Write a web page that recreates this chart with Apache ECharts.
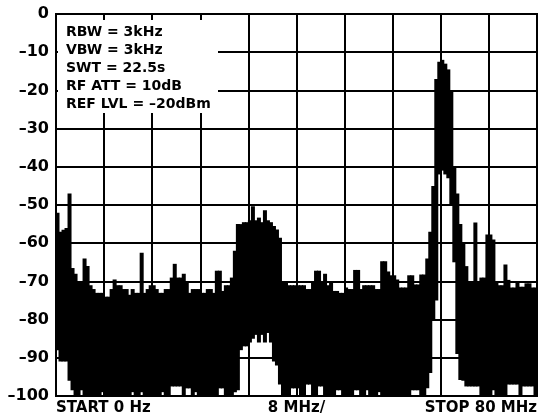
<!DOCTYPE html>
<html>
<head>
<meta charset="utf-8">
<script src="https://cdn.jsdelivr.net/npm/echarts@6/dist/echarts.min.js"></script>
<style>
html, body { margin: 0; padding: 0; background: #fff; }
#chart { width: 542px; height: 420px; }
</style>
</head>
<body>
<div id="chart"></div>
<script>
// spectrum sweep 0..80 MHz in 0.5 MHz bins
var binMHz = 0.5;

// top of the trace in each bin (dBm)
var upper = [
  -52, -57, -56.5, -56, -47, -66.5, -68, -70, -70, -64,
  -66, -71, -72, -73, -73, -73, -74, -74, -72, -69.5,
  -71, -71, -72, -72, -73.5, -72, -73, -73, -62.5, -73,
  -72, -71, -71, -72, -73, -73, -72, -72, -69, -65.4,
  -69, -69, -68, -70, -73, -72, -72, -72, -73, -73,
  -72, -72, -73, -67.2, -67.2, -72.5, -71, -71, -69, -62,
  -55, -55, -54.5, -54.5, -54, -50.3, -54, -53.3, -54.5, -51.4,
  -54, -54.5, -55.5, -56.4, -58.6, -70.4, -70.4, -71, -71, -71,
  -71, -71, -71, -72, -72, -70, -67.2, -67.2, -70, -68,
  -71, -69.9, -72.5, -72.5, -73, -73, -71.6, -72, -72, -67,
  -67, -72, -71, -71, -71, -71, -72, -72, -64.7, -64.7,
  -67.4, -68.4, -68.4, -69.5, -71.6, -71.6, -71.6, -68.4, -68.4, -70.8,
  -70.8, -68.2, -68.2, -64, -57, -45, -17, -12.5, -12, -13,
  -14.5, -20, -40, -47, -55, -60, -66, -70, -70, -54.6,
  -70, -69, -69, -57.7, -57.7, -59, -70, -71, -71, -65.6,
  -69.6, -71.6, -71.6, -70.2, -71.4, -71.4, -70.5, -70.5, -71.6, -71.6
];

// bottom of the trace in each bin (dBm)
var lower = [
  -88, -91, -91, -91, -96, -98.5, -100, -100, -98.5, -100,
  -100, -100, -100, -100, -100, -99, -100, -100, -100, -100,
  -100, -100, -100, -100, -100, -99, -100, -100, -99, -100,
  -100, -100, -100, -100, -100, -99, -100, -100, -97.5, -97.5,
  -97.5, -97.5, -100, -98, -98, -100, -99, -100, -100, -100,
  -100, -100, -100, -100, -98, -98, -100, -100, -100, -99,
  -98.5, -88, -87, -87, -86, -85, -84, -86, -84, -86,
  -83.5, -86, -91, -92, -97, -100, -100, -100, -98, -98,
  -98, -100, -100, -97, -97, -100, -100, -97.5, -97.5, -100,
  -100, -100, -100, -98.5, -98.5, -100, -100, -100, -100, -98.5,
  -98.5, -100, -100, -98.5, -100, -100, -100, -99, -100, -100,
  -100, -100, -100, -100, -100, -100, -100, -100, -98.5, -98.5,
  -98.5, -100, -100, -98, -94, -80, -75, -42, -41, -42,
  -43, -50, -65, -89, -95.8, -96, -97.5, -97.5, -97.5, -97.5,
  -97.5, -100, -100, -100, -100, -98.5, -100, -100, -100, -100,
  -97, -97, -97, -97, -100, -97.5, -97.5, -97.5, -97.5, -100
];

var xLabelAt = [0, 40, 80];
var xLabelText = ['START 0 Hz', '8 MHz/', 'STOP 80 MHz'];

var settings = [
  'RBW = 3kHz',
  'VBW = 3kHz',
  'SWT = 22.5s',
  'RF ATT = 10dB',
  'REF LVL = \u201320dBm'
];

var FONT = 'DejaVu Sans';

var data = upper.map(function (hi, i) {
  return [i * binMHz, lower[i], hi];
});

var myChart = echarts.init(document.getElementById('chart'));

var option = {
  animation: false,
  grid: {
    left: 56, right: 5, top: 14, bottom: 24,
    show: true, borderColor: '#000', borderWidth: 2
  },
  xAxis: {
    type: 'value',
    min: 0, max: 80, interval: 8,
    axisLine: { lineStyle: { color: '#000', width: 2 } },
    axisTick: { show: false },
    splitLine: { lineStyle: { color: '#000', width: 2 } },
    axisLabel: {
      color: '#000', fontFamily: FONT, fontWeight: 'bold', fontSize: 15,
      margin: 5,
      showMinLabel: true, showMaxLabel: true,
      alignMinLabel: 'left', alignMaxLabel: 'right',
      formatter: function (v) {
        var k = xLabelAt.indexOf(v);
        return k >= 0 ? xLabelText[k] : '';
      }
    }
  },
  yAxis: {
    type: 'value',
    min: -100, max: 0, interval: 10,
    axisLine: { lineStyle: { color: '#000', width: 2 } },
    axisTick: { show: false },
    splitLine: { lineStyle: { color: '#000', width: 2 } },
    axisLabel: {
      color: '#000', fontFamily: FONT, fontWeight: 'bold', fontSize: 16,
      margin: 7,
      formatter: function (v) {
        return v < 0 ? '\u2013' + (-v) : String(v);
      }
    }
  },
  series: [{
    type: 'custom',
    clip: true,
    data: data,
    encode: { x: 0, y: [1, 2] },
    renderItem: function (params, api) {
      var f = api.value(0);
      var p1 = api.coord([f, api.value(2)]);
      var p2 = api.coord([f + binMHz, api.value(1)]);
      // a little overlap so neighbouring bins join up
      return {
        type: 'rect',
        shape: { x: p1[0] - 0.5, y: p1[1], width: p2[0] - p1[0] + 1, height: p2[1] - p1[1] },
        style: { fill: '#000' }
      };
    }
  }],
  graphic: [
    {
      type: 'rect', z: 100,
      shape: { x: 58, y: 20, width: 160, height: 93 },
      style: { fill: '#fff' }
    },
    {
      type: 'text', z: 101,
      x: 66, y: 23,
      style: {
        text: settings.join('\n'),
        fill: '#000',
        font: 'bold 14px "' + FONT + '"',
        lineHeight: 18,
        verticalAlign: 'top'
      }
    }
  ]
};

myChart.setOption(option);
</script>
</body>
</html>
